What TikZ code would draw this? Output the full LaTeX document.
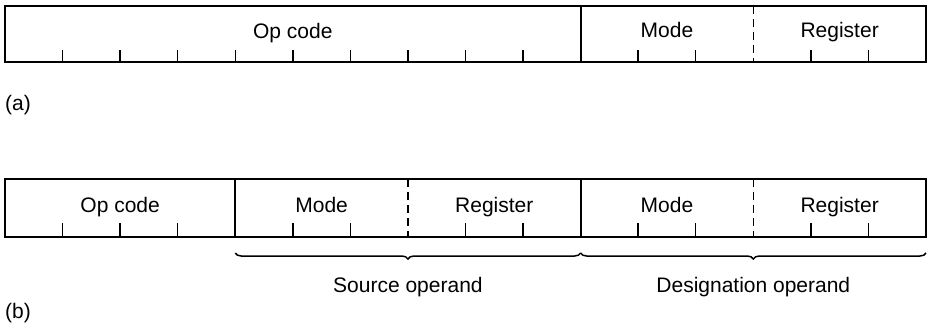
\documentclass[tikz,border=0pt]{standalone}
\usepackage{fontspec}
\setmainfont{Liberation Sans}
\usetikzlibrary{decorations.pathreplacing}
\begin{document}
\begin{tikzpicture}[x=1pt,y=-1pt,
  frame/.style={line width=1.9pt},
  bittick/.style={line width=1.4pt},
  divider/.style={line width=1.8pt},
  sepline/.style={line width=1.4pt, dash pattern=on 8pt off 5pt},
  lbl/.style={font=\fontsize{21}{24}\selectfont, anchor=base, inner sep=0pt},
  bracestyle/.style={decorate, decoration={brace, mirror, amplitude=6pt}, line width=1.5pt}]
\useasboundingbox (0,0) rectangle (932,333);
\def\bw{57.5625}
% ---------- (a) ----------
\draw[frame] (5,6) rectangle (926,62);
\foreach \i in {1,...,9,11,12,14,15}
  \draw[bittick] (5+\i*\bw,62) -- ++(0,-12);
\draw[divider] (5+10*\bw,6) -- (5+10*\bw,62);
\draw[sepline] (5+13*\bw,6) -- (5+13*\bw,62);
\node[lbl] (aop) at (5+5*\bw,38) {Op code};
\node[lbl] (amode) at (5+11.5*\bw,37) {Mode};
\node[lbl] (areg) at (5+14.5*\bw,37) {Register};
\node[lbl, anchor=base west] (alab) at (5,110) {(a)};
% ---------- (b) ----------
\draw[frame] (5,179) rectangle (926,237);
\foreach \i in {1,2,3,5,6,8,9,11,12,14,15}
  \draw[bittick] (5+\i*\bw,237) -- ++(0,-14);
\draw[divider] (5+4*\bw,179) -- (5+4*\bw,237);
\draw[divider] (5+10*\bw,179) -- (5+10*\bw,237);
\draw[sepline] (5+7*\bw,179) -- (5+7*\bw,237);
\draw[sepline] (5+13*\bw,179) -- (5+13*\bw,237);
\node[lbl] (bop) at (5+2*\bw,212) {Op code};
\node[lbl] (bmode1) at (5+5.5*\bw,212) {Mode};
\node[lbl] (breg1) at (5+8.5*\bw,212) {Register};
\node[lbl] (bmode2) at (5+11.5*\bw,212) {Mode};
\node[lbl] (breg2) at (5+14.5*\bw,212) {Register};
\coordinate (s1) at (5+4*\bw,253);
\coordinate (s2) at (5+10*\bw,253);
\coordinate (s3) at (926,253);
\draw[bracestyle] (s1) -- (s2);
\draw[bracestyle] (s2) -- (s3);
\node[lbl] (src) at (5+7*\bw,292) {Source operand};
\node[lbl] (dst) at (5+13*\bw,292) {Designation operand};
\node[lbl, anchor=base west] (blab) at (5,318) {(b)};
\end{tikzpicture}
\end{document}
